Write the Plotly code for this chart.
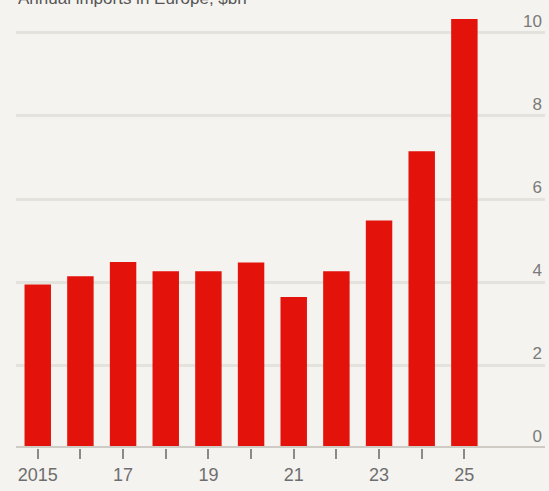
import plotly.graph_objects as go

years = [2015, 2016, 2017, 2018, 2019, 2020, 2021, 2022, 2023, 2024, 2025]
values = [3.94, 4.14, 4.48, 4.26, 4.26, 4.47, 3.64, 4.26, 5.48, 7.15, 10.34]
x_tick_text = ["2015", "", "17", "", "19", "", "21", "", "23", "", "25"]
y_ticks = [0, 2, 4, 6, 8, 10]
y_tick_text = ["0", "2", "4", "6", "8", "10"]
title_text = "Annual imports in Europe, $bn"

BG = "#f4f3ef"
RED = "#e3120b"

fig = go.Figure()
fig.add_trace(go.Bar(x=years, y=values, marker=dict(color=RED, line=dict(width=0)),
                     width=0.62))

fig.update_layout(
    width=549, height=491,
    paper_bgcolor=BG, plot_bgcolor=BG,
    margin=dict(l=16, r=4, t=0, b=43),
    showlegend=False,
    bargap=0.38,
    font=dict(family="Liberation Sans, Arial, sans-serif", color="#6e6e6e", size=17),
    xaxis=dict(
        range=[2014.49, 2026.89],
        tickvals=years, ticktext=x_tick_text,
        ticks="outside", ticklen=10, tickwidth=1.5, tickcolor="#8a8a8a",
        showgrid=False, zeroline=False, showline=False,
        tickfont=dict(size=18, color="#6e6e6e"),
    ),
    yaxis=dict(
        range=[0, 10.795],
        side="right",
        tickvals=y_ticks, ticktext=y_tick_text,
        ticklabelposition="inside top",
        showgrid=True, gridcolor="#e4e2dc", gridwidth=3,
        zeroline=False, showline=False, ticks="",
        tickfont=dict(size=17, color="#7a7a7a"),
    ),
    annotations=[dict(text=title_text, xref="paper", yref="paper", x=0, y=1,
                      xanchor="left", yanchor="top", yshift=13, showarrow=False,
                      font=dict(size=17, color="#555555"))],
    shapes=[dict(type="line", xref="paper", yref="y", x0=0, x1=1, y0=0, y1=0,
                 line=dict(color="#cdcbc4", width=4), layer="above")],
)

fig.write_html("out.html")
